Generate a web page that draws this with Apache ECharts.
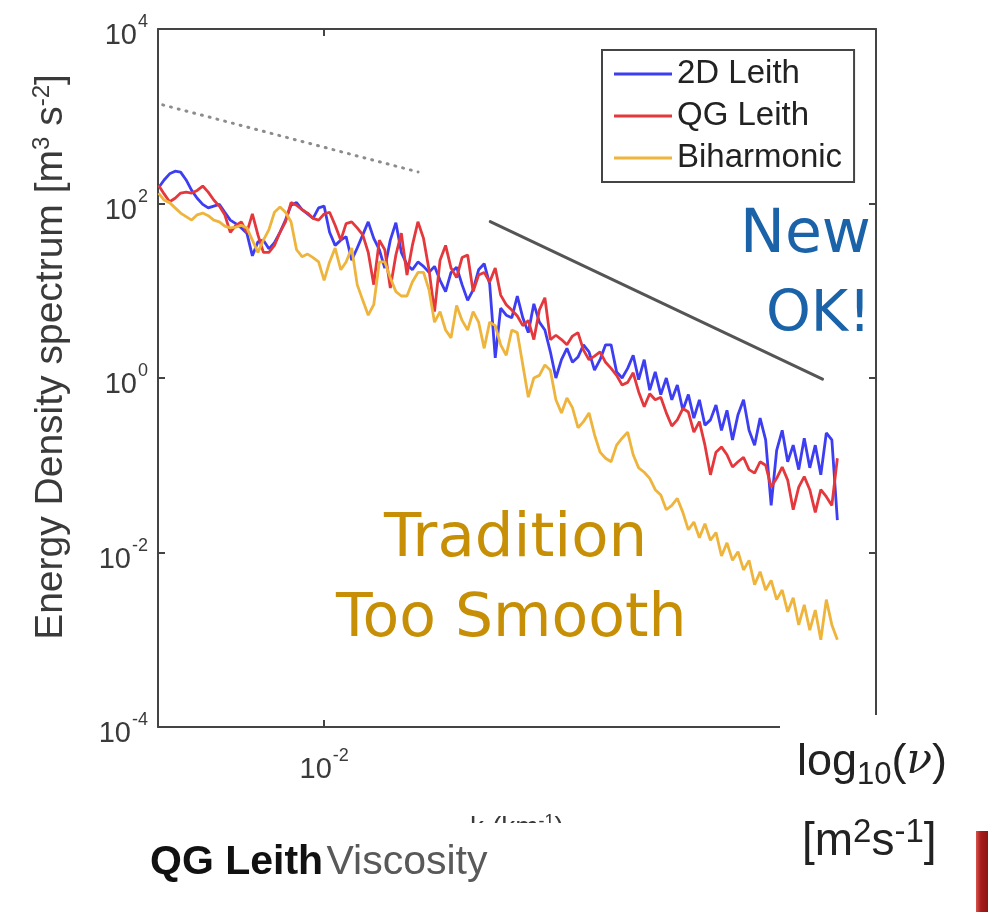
<!DOCTYPE html>
<html>
<head>
<meta charset="utf-8">
<title>Energy Density spectrum</title>
<script src="https://cdn.jsdelivr.net/npm/echarts@6/dist/echarts.min.js"></script>
<style>
  html, body { margin: 0; padding: 0; background: #fff; }
  #chart { width: 988px; height: 912px; }
</style>
</head>
<body>
<div id="chart"></div>
<script>
// wavenumber k (km^-1)
const k = [
  0.005012, 0.005129, 0.005248, 0.005370, 0.005495, 0.005623, 0.005754, 0.005888, 0.006026, 0.006166,
  0.006310, 0.006457, 0.006607, 0.006761, 0.006918, 0.007079, 0.007244, 0.007413, 0.007586, 0.007762,
  0.007943, 0.008128, 0.008318, 0.008511, 0.008710, 0.008913, 0.009120, 0.009333, 0.009550, 0.009772,
  0.01000, 0.01023, 0.01047, 0.01072, 0.01096, 0.01122, 0.01148, 0.01175, 0.01202, 0.01230,
  0.01259, 0.01288, 0.01318, 0.01349, 0.01380, 0.01413, 0.01445, 0.01479, 0.01514, 0.01549,
  0.01585, 0.01622, 0.01660, 0.01698, 0.01738, 0.01778, 0.01820, 0.01862, 0.01905, 0.01950,
  0.01995, 0.02042, 0.02089, 0.02138, 0.02188, 0.02239, 0.02291, 0.02344, 0.02399, 0.02455,
  0.02512, 0.02570, 0.02630, 0.02692, 0.02754, 0.02818, 0.02884, 0.02951, 0.03020, 0.03090,
  0.03162, 0.03236, 0.03311, 0.03388, 0.03467, 0.03548, 0.03631, 0.03715, 0.03802, 0.03890,
  0.03981, 0.04074, 0.04169, 0.04266, 0.04365, 0.04467, 0.04571, 0.04677, 0.04786, 0.04898,
  0.05012, 0.05129, 0.05248, 0.05370, 0.05495, 0.05623, 0.05754, 0.05888, 0.06026, 0.06166,
  0.06310, 0.06457, 0.06607, 0.06761, 0.06918, 0.07079, 0.07244, 0.07413, 0.07586, 0.07762,
  0.07943, 0.08128, 0.08318, 0.08511
];

// log10 of energy density (m^3 s^-2)
const leith2dExp = [
  2.18, 2.27, 2.34, 2.37, 2.36, 2.27, 2.15, 2.06, 1.99, 1.95,
  1.97, 1.99, 1.90, 1.81, 1.77, 1.72, 1.66, 1.40, 1.56, 1.58,
  1.48, 1.55, 1.67, 1.81, 1.98, 2.01, 1.93, 1.88, 1.83, 1.95,
  1.97, 1.67, 1.52, 1.58, 1.62, 1.35, 1.49, 1.64, 1.79, 1.60,
  1.47, 1.26, 1.58, 1.78, 1.44, 1.30, 1.24, 1.33, 1.28, 1.21,
  1.28, 1.12, 0.99, 1.21, 1.27, 1.07, 0.89, 1.01, 1.24, 1.31,
  1.08, 0.23, 0.80, 0.72, 0.69, 0.94, 0.69, 0.52, 0.85, 0.64,
  0.55, 0.30, 0.00, 0.21, 0.34, 0.18, 0.24, 0.38, 0.30, 0.09,
  0.21, 0.38, 0.38, 0.07, 0.00, 0.11, 0.26, -0.02, 0.21, -0.14,
  0.07, -0.19, 0.00, -0.25, -0.08, -0.37, -0.19, -0.46, -0.25, -0.54,
  -0.48, -0.31, -0.60, -0.37, -0.71, -0.42, -0.25, -0.60, -0.77, -0.46,
  -0.71, -1.46, -0.83, -0.60, -0.96, -0.77, -1.05, -0.69, -1.03, -0.77,
  -1.11, -0.63, -0.71, -1.63
];
const leithQgExp = [
  2.21, 2.11, 2.02, 2.06, 2.12, 2.13, 2.12, 2.15, 2.20, 2.13,
  2.04, 1.97, 1.87, 1.67, 1.75, 1.79, 1.67, 1.88, 1.64, 1.44,
  1.44, 1.52, 1.67, 1.79, 2.01, 1.98, 1.93, 1.89, 1.83, 1.81,
  1.88, 1.90, 1.75, 1.58, 1.77, 1.79, 1.72, 1.64, 1.44, 1.07,
  1.58, 1.47, 1.03, 1.41, 1.66, 1.18, 1.52, 1.79, 1.60, 1.24,
  0.76, 1.35, 1.52, 1.26, 1.15, 1.38, 1.41, 0.99, 1.18, 1.21,
  1.10, 1.26, 0.95, 0.84, 0.78, 0.71, 0.60, 0.66, 0.44, 0.78,
  0.92, 0.44, 0.49, 0.44, 0.38, 0.48, 0.52, 0.32, 0.21, 0.25,
  0.30, 0.18, 0.11, 0.03, -0.08, -0.05, 0.06, -0.16, -0.33, -0.18,
  -0.25, -0.22, -0.40, -0.55, -0.48, -0.35, -0.39, -0.62, -0.50, -0.77,
  -1.11, -0.85, -0.79, -0.88, -1.02, -0.96, -0.91, -1.05, -1.09, -0.96,
  -1.00, -1.25, -1.15, -1.02, -1.17, -1.51, -1.25, -1.13, -1.28, -1.54,
  -1.28, -1.36, -1.46, -0.92
];
const biharmonicExp = [
  2.12, 2.04, 2.01, 1.95, 1.89, 1.85, 1.81, 1.87, 1.89, 1.86,
  1.81, 1.79, 1.74, 1.72, 1.73, 1.75, 1.72, 1.58, 1.44, 1.58,
  1.70, 1.90, 1.96, 1.90, 1.79, 1.47, 1.39, 1.42, 1.38, 1.33,
  1.12, 1.33, 1.49, 1.24, 1.33, 1.49, 1.07, 0.89, 0.72, 0.84,
  1.33, 1.33, 1.15, 0.99, 0.94, 0.94, 1.10, 1.21, 1.21, 1.01,
  0.64, 0.76, 0.55, 0.46, 0.83, 0.66, 0.55, 0.76, 0.64, 0.34,
  0.64, 0.60, 0.38, 0.26, 0.55, 0.52, 0.15, -0.22, 0.00, 0.03,
  0.15, 0.09, -0.25, -0.40, -0.23, -0.34, -0.57, -0.50, -0.40, -0.65,
  -0.85, -0.92, -0.96, -0.77, -0.69, -0.62, -0.88, -1.03, -1.08, -1.15,
  -1.28, -1.34, -1.51, -1.46, -1.38, -1.54, -1.74, -1.65, -1.83, -1.67,
  -1.86, -1.77, -2.04, -1.89, -2.09, -1.99, -2.20, -2.09, -2.37, -2.22,
  -2.43, -2.32, -2.54, -2.43, -2.68, -2.52, -2.83, -2.60, -2.89, -2.66,
  -3.00, -2.54, -2.83, -3.00
];

// reference slopes: k^-5/3 (dotted) and k^-3 (solid)
const slope53K = [0.0051, 0.0148];
const slope53E = [1350, 230];
const slope3K = [0.020, 0.080];
const slope3E = [62, 0.97];

const seriesNames = ['2D Leith', 'QG Leith', 'Biharmonic'];

const chart = echarts.init(document.getElementById('chart'));

const axisColor = '#444';
const textColor = '#3a3a3a';
const font = 'Liberation Sans, Arial, Helvetica, sans-serif';

// only label whole decades, as 10^n
function decadeLabel(v) {
  const e = Math.log10(v);
  const r = Math.round(e);
  if (Math.abs(e - r) > 1e-6) return '';
  return '{b|10}{s|' + r + '}';
}
const labelRich = {
  b: { fontSize: 29, fontFamily: font, color: textColor, padding: [14, 0, 0, 0] },
  s: { fontSize: 18, fontFamily: font, color: textColor, padding: [0, 0, 13, 1] }
};

function spectrum(name, exps, color) {
  return {
    name: name,
    type: 'line',
    data: k.map((kv, i) => [kv, Math.pow(10, exps[i])]),
    symbol: 'none',
    lineStyle: { color: color, width: 2.8 },
    itemStyle: { color: color },
    emphasis: { disabled: true }
  };
}

function guide(ks, es, color, type) {
  return {
    type: 'line',
    data: ks.map((kv, i) => [kv, es[i]]),
    symbol: 'none',
    lineStyle: { color: color, width: 3, type: type, cap: 'round' },
    emphasis: { disabled: true },
    silent: true
  };
}

const xBase = {
  type: 'log',
  logBase: 10,
  min: 0.005,
  max: 0.1,
  axisLine: { lineStyle: { color: axisColor, width: 2 } },
  axisTick: { inside: true, length: 7, lineStyle: { color: axisColor, width: 2 } },
  splitLine: { show: false }
};
const yBase = {
  type: 'log',
  logBase: 10,
  min: 1e-4,
  max: 1e4,
  interval: 2,
  axisLine: { lineStyle: { color: axisColor, width: 2 } },
  axisTick: { inside: true, length: 7, lineStyle: { color: axisColor, width: 2 } },
  splitLine: { show: false }
};

const option = {
  animation: false,
  backgroundColor: '#fff',
  grid: { left: 158, top: 29, width: 718, height: 698 },
  legend: {
    data: seriesNames,
    orient: 'vertical',
    left: 602,
    top: 50,
    padding: [6, 12, 6, 12],
    itemGap: 6,
    icon: 'rect',
    itemWidth: 58,
    itemHeight: 3,
    borderColor: '#444',
    borderWidth: 2,
    borderRadius: 0,
    backgroundColor: '#fff',
    textStyle: { fontSize: 33, fontFamily: font, color: '#222', lineHeight: 36 }
  },
  xAxis: [
    Object.assign({}, xBase, {
      position: 'bottom',
      axisLabel: { formatter: decadeLabel, rich: labelRich, margin: 14 },
      name: 'k (km{s|-1})',
      nameLocation: 'middle',
      nameGap: 86,
      nameTextStyle: {
        fontSize: 28, fontFamily: font, color: textColor,
        rich: { s: { fontSize: 18, fontFamily: font, color: textColor, padding: [0, 0, 12, 0] } }
      }
    }),
    Object.assign({}, xBase, { position: 'top', axisLabel: { show: false } })
  ],
  yAxis: [
    Object.assign({}, yBase, {
      position: 'left',
      axisLabel: { formatter: decadeLabel, rich: labelRich, margin: 10 },
      name: '{t|Energy Density spectrum [m}{s|3}{t| s}{s|-2}{t|]}',
      nameLocation: 'middle',
      nameGap: 86,
      nameTextStyle: {
        padding: [0, 0, 0, 42],
        rich: {
          t: { fontSize: 39, fontFamily: font, color: textColor },
          s: { fontSize: 24, fontFamily: font, color: textColor, padding: [0, 0, 18, 0] }
        }
      }
    }),
    Object.assign({}, yBase, { position: 'right', axisLabel: { show: false } })
  ],
  series: [
    spectrum(seriesNames[0], leith2dExp, '#3d3df2'),
    spectrum(seriesNames[1], leithQgExp, '#e4383c'),
    spectrum(seriesNames[2], biharmonicExp, '#eeb43c'),
    guide(slope53K, slope53E, '#8c8c8c', [1, 7]),
    guide(slope3K, slope3E, '#555', 'solid')
  ],
  graphic: [
    // annotations laid over the plot
    { type: 'text', z: 100, left: 740, top: 206,
      style: { text: 'New', fontSize: 60, fontFamily: 'DejaVu Sans', fill: '#1b63a8' } },
    { type: 'text', z: 100, left: 766, top: 288,
      style: { text: 'OK!', fontSize: 57, fontFamily: 'DejaVu Sans', fill: '#1b63a8' } },
    { type: 'text', z: 100, left: 384, top: 510,
      style: { text: 'Tradition', fontSize: 61, fontFamily: 'DejaVu Sans', fill: '#c68f05' } },
    { type: 'text', z: 100, left: 336, top: 590,
      style: { text: 'Too Smooth', fontSize: 60, fontFamily: 'DejaVu Sans', fill: '#c68f05' } },
    // white strip hiding the lower half of the x-axis title
    { type: 'rect', z: 100, shape: { x: 0, y: 823, width: 988, height: 89 }, style: { fill: '#fff' } },
    { type: 'text', z: 101, left: 150, top: 842,
      style: {
        text: '{b|QG Leith} {n|Viscosity}',
        rich: {
          b: { fontSize: 41, fontWeight: 'bold', fontFamily: font, fill: '#111' },
          n: { fontSize: 41, fontFamily: font, fill: '#595959' }
        }
      } },
    // colour-bar caption panel at the lower right
    { type: 'rect', z: 100, shape: { x: 780, y: 715, width: 208, height: 197 }, style: { fill: '#fff' } },
    { type: 'text', z: 101, left: 797, top: 740,
      style: {
        text: '{a|log}{sub|10}{a|(}{nu|\u03bd}{a|)}',
        rich: {
          a: { fontSize: 45, fontFamily: font, fill: '#222' },
          sub: { fontSize: 31, fontFamily: font, fill: '#222', padding: [26, 0, 0, 0] },
          nu: { fontSize: 42, fontFamily: 'DejaVu Serif', fontStyle: 'italic', fill: '#222' }
        }
      } },
    { type: 'text', z: 101, left: 802, top: 816,
      style: {
        text: '{a|[m}{s|2}{a|s}{s|-1}{a|]}',
        rich: {
          a: { fontSize: 46, fontFamily: font, fill: '#222' },
          s: { fontSize: 33, fontFamily: font, fill: '#222', padding: [0, 0, 20, 0] }
        }
      } },
    { type: 'rect', z: 101, shape: { x: 976, y: 831, width: 12, height: 81 },
      style: {
        fill: new echarts.graphic.LinearGradient(0, 0, 1, 0, [
          { offset: 0, color: '#d9534f' },
          { offset: 0.4, color: '#a51c1c' },
          { offset: 1, color: '#8e1414' }
        ])
      } }
  ]
};

chart.setOption(option);
</script>
</body>
</html>
